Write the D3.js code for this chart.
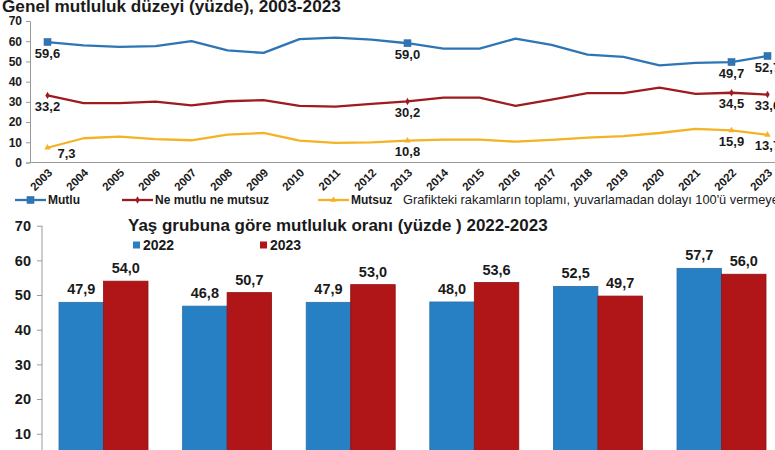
<!DOCTYPE html>
<html><head><meta charset="utf-8">
<script src="https://cdn.jsdelivr.net/npm/d3@7"></script>
<style>
html,body{margin:0;padding:0;background:#fff;overflow:hidden}
svg{display:block;font-family:"Liberation Sans",Arial,sans-serif}
</style></head>
<body><svg id="c" width="775" height="450"></svg>
<script>
// ---- Data: top line chart ----
const years = ["2003","2004","2005","2006","2007","2008","2009","2010","2011","2012","2013","2014","2015","2016","2017","2018","2019","2020","2021","2022","2023"];
const mutlu = [59.6,57.9,57.2,57.6,60.0,55.5,54.2,61.0,61.8,60.8,59.0,56.3,56.3,61.3,58.2,53.4,52.3,48.0,49.3,49.7,52.7];
const neMutlu = [33.2,29.4,29.4,30.1,28.3,30.3,30.9,28.0,27.6,29.0,30.2,32.1,32.1,28.0,31.1,34.3,34.3,37.0,33.9,34.5,33.6];
const mutsuz = [7.3,12.0,12.8,11.6,11.0,13.8,14.6,10.8,9.7,10.0,10.8,11.3,11.3,10.3,11.2,12.3,13.0,14.6,16.6,15.9,13.7];
const labelledYears = ["2003","2013","2022","2023"];
const seriesNames = ["Mutlu","Ne mutlu ne mutsuz","Mutsuz"];
const topTicks = [0,10,20,30,40,50,60,70];
const topTitle = "Genel mutluluk düzeyi (yüzde), 2003-2023";
const note = "Grafikteki rakamların toplamı, yuvarlamadan dolayı 100'ü vermeyebilir.";

// ---- Data: bottom bar chart ----
const ageGroups = ["18-24","25-34","35-44","45-54","55-64","65+"];
const v2022 = [47.9,46.8,47.9,48.0,52.5,57.7];
const v2023 = [54.0,50.7,53.0,53.6,49.7,56.0];
const barSeries = ["2022","2023"];
const bottomTicks = [10,20,30,40,50,60,70];
const bottomTitle = "Yaş grubuna göre mutluluk oranı (yüzde ) 2022-2023";

const fmt = v => v.toFixed(1).replace(".", ",");
const svg = d3.select("#c");
const C = {blue:"#2E75B6", red:"#9E1B20", yellow:"#F3B325", bBlue:"#2880C4", bRed:"#B01518", txt:"#1a1a1a", axis:"#9a9a9a"};

// ===== TOP CHART =====
const x = d3.scalePoint().domain(years).range([29.5, 785.5]).padding(0.5);
const y = d3.scaleLinear().domain([0,70]).range([162.5, 21]);

const t1 = svg.append("text").attr("x",2).attr("y",11.5).attr("font-weight","bold")
  .attr("font-size",14.5).attr("fill",C.txt).text(topTitle);
(function(){const w=t1.node().getComputedTextLength(); t1.attr("font-size",14.5*339/w);})();

const yAx = svg.append("g").attr("transform","translate(30,0)")
  .call(d3.axisLeft(y).tickValues(topTicks).tickSize(4).tickPadding(4));
yAx.select(".domain").attr("stroke",C.axis);
yAx.selectAll(".tick line").attr("stroke",C.axis);
yAx.selectAll("text").attr("font-size",12).attr("font-weight","bold").attr("fill",C.txt)
  .attr("font-family","Liberation Sans, Arial, sans-serif");

const xAx = svg.append("g").attr("transform",`translate(0,${y(0)})`)
  .call(d3.axisBottom(x).tickSize(0).tickPadding(0));
xAx.select(".domain").attr("stroke",C.axis).attr("d","M30,0H775");
xAx.selectAll("text").attr("font-size",11.5).attr("font-weight","bold").attr("fill",C.txt)
  .attr("font-family","Liberation Sans, Arial, sans-serif")
  .attr("text-anchor","end").attr("dy",0).attr("y",0)
  .attr("transform","translate(5,11) rotate(-45)");

const line = d3.line().x((d,i)=>x(years[i])).y(d=>y(d));
const seriesData = [
  {name:seriesNames[0], vals:mutlu, color:C.blue, marker:"square"},
  {name:seriesNames[1], vals:neMutlu, color:C.red, marker:"diamond"},
  {name:seriesNames[2], vals:mutsuz, color:C.yellow, marker:"triangle"}
];
function marker(g, type, cx, cy, color){
  if(type==="square") g.append("rect").attr("x",cx-3.5).attr("y",cy-3.5).attr("width",7).attr("height",7).attr("fill",color).attr("stroke","#3a6ea5").attr("stroke-width",0.6);
  else g.append("path").attr("d",d3.symbol(type==="diamond"?d3.symbolDiamond:d3.symbolTriangle,type==="diamond"?16:18)()).attr("transform",`translate(${cx},${cy})`).attr("fill",color);
}
seriesData.forEach(s=>{
  svg.append("path").datum(s.vals).attr("d",line).attr("fill","none")
    .attr("stroke",s.color).attr("stroke-width",2.3).attr("stroke-linejoin","round");
  const g = svg.append("g");
  years.forEach((yr,i)=>{
    if(!labelledYears.includes(yr)) return;
    marker(g, s.marker, x(yr), y(s.vals[i]), s.color);
    let dx = 0, dy = 11;
    if(s.name==="Mutsuz" && yr==="2003"){dx=19; dy=6;}
    g.append("text").attr("x",x(yr)+dx).attr("y",y(s.vals[i])+dy).attr("dy","0.35em")
      .attr("text-anchor","middle").attr("font-size",13).attr("font-weight","bold")
      .attr("fill",C.txt).text(fmt(s.vals[i]));
  });
});

const legX = [15,122,318];
const leg = svg.append("g");
seriesData.forEach((s,i)=>{
  const lx = legX[i], ly = 200;
  leg.append("line").attr("x1",lx).attr("x2",lx+31).attr("y1",ly).attr("y2",ly).attr("stroke",s.color).attr("stroke-width",2.3);
  marker(leg, s.marker, lx+15.5, ly, s.color);
  leg.append("text").attr("x",lx+33).attr("y",ly).attr("dy","0.35em").attr("font-size",12)
    .attr("font-weight","bold").attr("fill",C.txt).text(s.name);
});
leg.append("text").attr("x",403).attr("y",200).attr("dy","0.35em").attr("font-size",12.8)
  .attr("fill",C.txt).text(note);

// ===== BOTTOM CHART =====
const x0 = d3.scaleBand().domain(ageGroups).range([41.7, 783.3]).paddingInner(0.28).paddingOuter(0.14);
const x1 = d3.scaleBand().domain(barSeries).range([0, x0.bandwidth()]);
const y2 = d3.scaleLinear().domain([0,70]).range([468.4, 225.7]);

const t2 = svg.append("text").attr("x",128).attr("y",225).attr("dy","0.35em").attr("font-weight","bold")
  .attr("font-size",15).attr("fill",C.txt).text(bottomTitle);
(function(){const w=t2.node().getComputedTextLength(); t2.attr("font-size",15*420/w);})();

const yAx2 = svg.append("g").attr("transform","translate(42,0)")
  .call(d3.axisLeft(y2).tickValues(bottomTicks).tickSize(5).tickPadding(6));
yAx2.select(".domain").attr("stroke",C.axis).attr("d","M0,225.7V450");
yAx2.selectAll(".tick line").attr("stroke",C.axis);
yAx2.selectAll("text").attr("font-size",14.5).attr("font-weight","bold").attr("fill",C.txt)
  .attr("font-family","Liberation Sans, Arial, sans-serif");

const barData = ageGroups.map((g,i)=>({g, vals:[{k:"2022",v:v2022[i]},{k:"2023",v:v2023[i]}]}));
const colorB = d3.scaleOrdinal().domain(barSeries).range([C.bBlue, C.bRed]);
const gg = svg.append("g").selectAll("g").data(barData).join("g")
  .attr("transform",d=>`translate(${x0(d.g)},0)`);
gg.selectAll("rect").data(d=>d.vals).join("rect")
  .attr("x",d=>x1(d.k)).attr("width",x1.bandwidth()).attr("y",d=>y2(d.v))
  .attr("height",d=>y2(0)-y2(d.v)).attr("fill",d=>colorB(d.k))
  .attr("stroke",d=>d.k==="2022"?"#2a6fa8":"#8e1214").attr("stroke-width",0.8);
gg.selectAll("text").data(d=>d.vals).join("text")
  .attr("x",d=>x1(d.k)+x1.bandwidth()/2).attr("y",d=>y2(d.v)-13).attr("dy","0.35em")
  .attr("text-anchor","middle").attr("font-size",14.5).attr("font-weight","bold")
  .attr("fill",C.txt).text(d=>fmt(d.v));

const legB = [133,260];
barSeries.forEach((k,i)=>{
  svg.append("rect").attr("x",legB[i]).attr("y",241.5).attr("width",7).attr("height",7).attr("fill",colorB(k));
  svg.append("text").attr("x",legB[i]+10).attr("y",245).attr("dy","0.35em").attr("font-size",14)
    .attr("font-weight","bold").attr("fill",C.txt).text(k);
});
</script></body></html>
